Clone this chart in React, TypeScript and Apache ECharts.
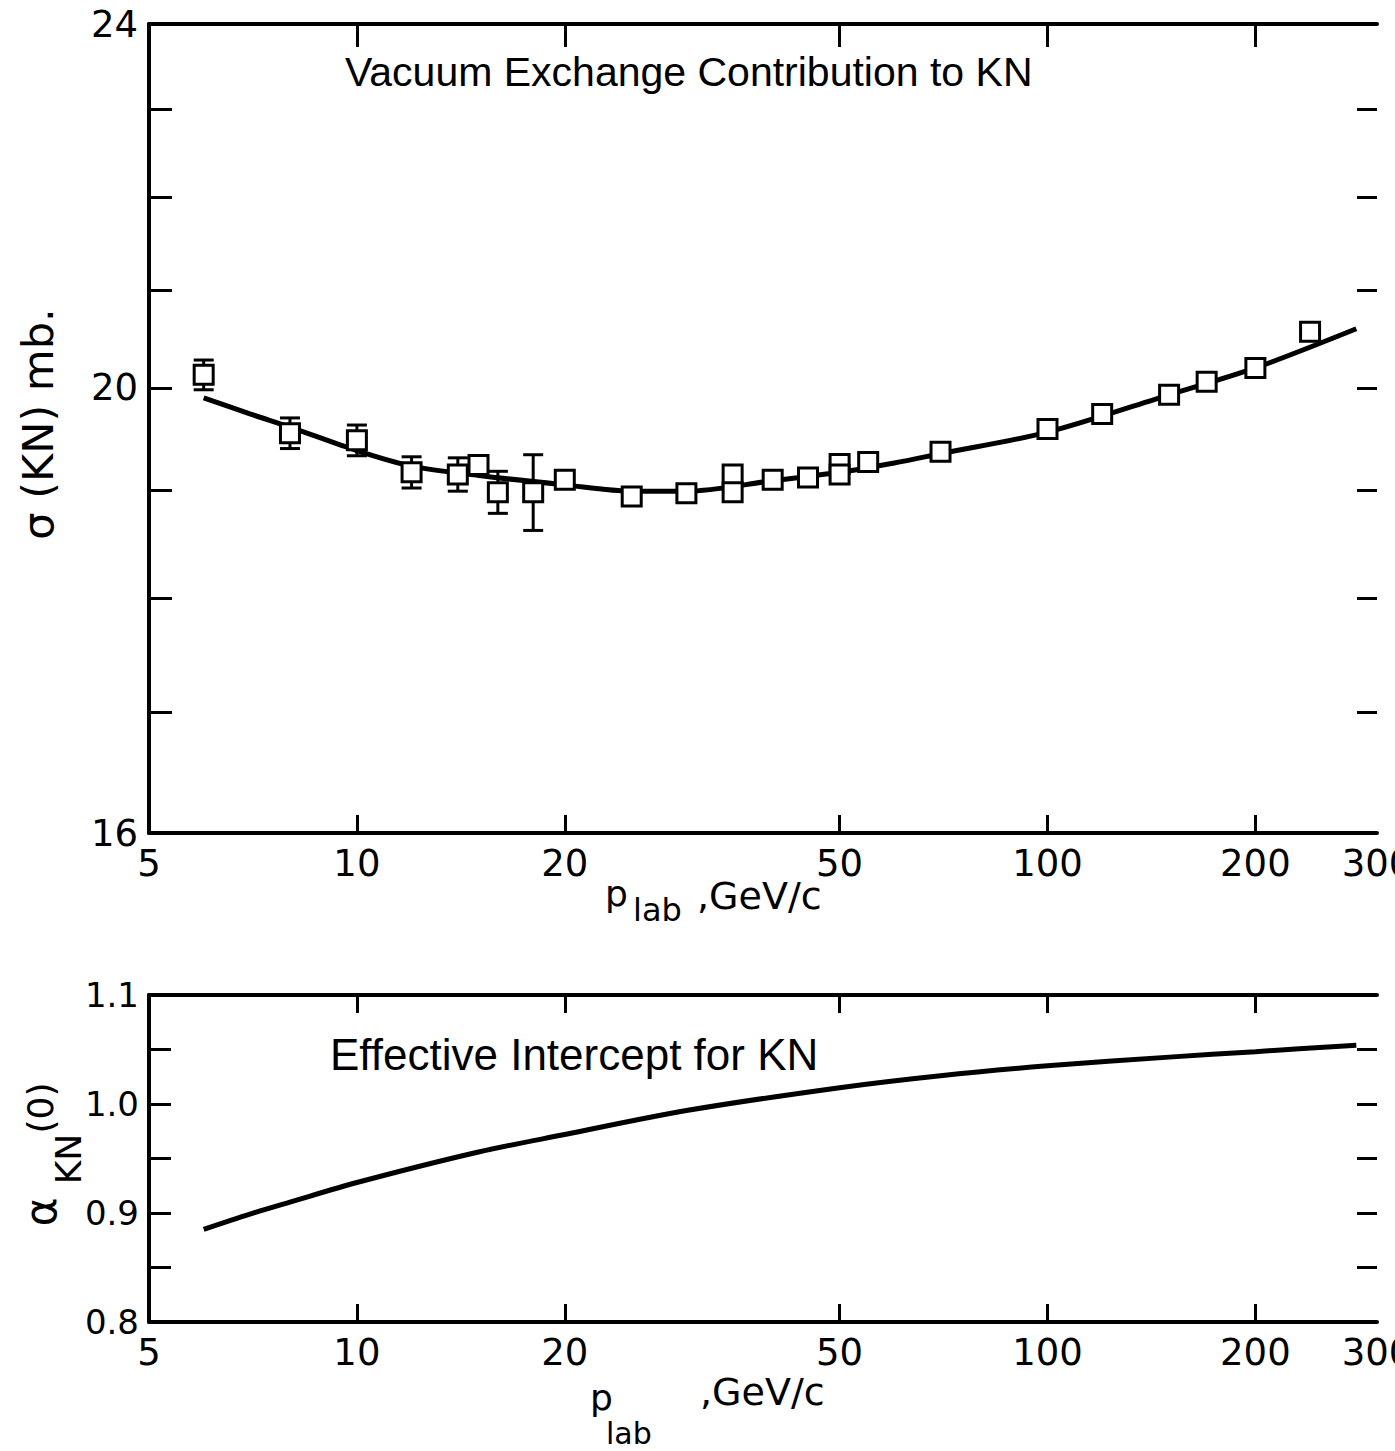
import React, { useEffect, useRef } from "react";
import * as echarts from "echarts";

// Axis ticks and labels (p_lab in GeV/c, sigma in mb, alpha dimensionless)
const momentumLabels = [5, 10, 20, 50, 100, 200, 300];
const momentumTicks = [10, 20, 50, 100, 200];
const sigmaLabels = [16, 20, 24];
const sigmaTicks = [17, 18, 19, 20, 21, 22, 23];
const alphaLabels = [0.8, 0.9, 1.0, 1.1];
const alphaTicks = [0.85, 0.9, 0.95, 1.0, 1.05];

// Measured KN cross sections with their errors (0 = no bar drawn)
const sigmaMomenta = [6, 8, 10, 12, 14, 15, 16, 18, 20, 25, 30, 35, 35, 40, 45, 50, 50, 55, 70, 100, 120, 150, 170, 200, 240];
const sigmaValues = [20.13, 19.55, 19.48, 19.17, 19.15, 19.24, 18.98, 18.98, 19.1, 18.94, 18.97, 19.15, 18.98, 19.1, 19.12, 19.25, 19.15, 19.27, 19.37, 19.59, 19.74, 19.93, 20.06, 20.2, 20.57];
const sigmaErrors = [0.15, 0.15, 0.15, 0.15, 0.16, 0, 0.2, 0.36, 0, 0, 0, 0, 0, 0, 0, 0, 0, 0, 0, 0, 0, 0, 0, 0, 0];

// Vacuum-exchange fit through the cross sections
const fitMomenta = [6, 7, 8, 10, 12, 15, 20, 25, 30, 40, 50, 60, 70, 100, 150, 200, 280];
const fitSigma = [19.9, 19.74, 19.61, 19.38, 19.23, 19.14, 19.05, 18.99, 18.99, 19.09, 19.17, 19.26, 19.35, 19.56, 19.93, 20.2, 20.6];

// Effective intercept alpha_KN(0)
const alphaMomenta = [6, 7, 8, 10, 15, 20, 30, 50, 70, 100, 150, 200, 280];
const alphaValues = [0.885, 0.899, 0.91, 0.928, 0.956, 0.972, 0.994, 1.015, 1.026, 1.035, 1.043, 1.048, 1.054];

const DIGIT_FONT = '"DejaVu Sans", sans-serif';
const TEXT_FONT = '"Liberation Sans", Arial, sans-serif';
const INK = "#000";

function buildOption() {
  const axisLine = { show: true, lineStyle: { color: INK, width: 4 } };
  const noLine = { show: false };
  const tickStyle = { color: INK, width: 3 };
  const labelStyle = { color: INK, fontFamily: DIGIT_FONT, fontSize: 37 };
  const fmtInt = (v: number) => String(Math.round(v));

  const momentumAxes = [0, 1].flatMap((g) => [
    {
      type: "log",
      logBase: 10,
      gridIndex: g,
      min: 5,
      max: 300,
      position: "bottom",
      axisLine,
      splitLine: { show: false },
      axisTick: { show: true, inside: true, length: 18, lineStyle: tickStyle, customValues: momentumTicks },
      axisLabel: { show: true, customValues: momentumLabels, formatter: fmtInt, margin: 12, ...labelStyle },
    },
    {
      type: "log",
      logBase: 10,
      gridIndex: g,
      min: 5,
      max: 300,
      position: "top",
      axisLine,
      splitLine: { show: false },
      axisTick: { show: true, inside: true, length: g === 0 ? 23 : 18, lineStyle: tickStyle, customValues: momentumTicks },
      axisLabel: { show: false },
    },
  ]);

  const yAxes = [
    {
      type: "log",
      logBase: 10,
      gridIndex: 0,
      min: 16,
      max: 24,
      position: "left",
      axisLine,
      splitLine: { show: false },
      axisTick: { show: true, inside: true, length: 23, lineStyle: tickStyle, customValues: sigmaTicks },
      axisLabel: { show: true, customValues: sigmaLabels, formatter: fmtInt, margin: 11, ...labelStyle },
    },
    {
      type: "log",
      logBase: 10,
      gridIndex: 0,
      min: 16,
      max: 24,
      position: "right",
      axisLine: noLine,
      splitLine: { show: false },
      axisTick: { show: true, inside: true, length: 20, lineStyle: tickStyle, customValues: sigmaTicks },
      axisLabel: { show: false },
    },
    {
      type: "value",
      gridIndex: 1,
      min: 0.8,
      max: 1.1,
      position: "left",
      axisLine,
      splitLine: { show: false },
      axisTick: { show: true, inside: true, length: 22, lineStyle: tickStyle, customValues: alphaTicks },
      axisLabel: {
        show: true,
        customValues: alphaLabels,
        formatter: (v: number) => v.toFixed(1),
        margin: 10,
        ...labelStyle,
        fontSize: 34,
      },
    },
    {
      type: "value",
      gridIndex: 1,
      min: 0.8,
      max: 1.1,
      position: "right",
      axisLine: noLine,
      splitLine: { show: false },
      axisTick: { show: true, inside: true, length: 20, lineStyle: tickStyle, customValues: alphaTicks },
      axisLabel: { show: false },
    },
  ];

  const fitData = fitMomenta.map((p, i) => [p, fitSigma[i]]);
  const pointData = sigmaMomenta.map((p, i) => [p, sigmaValues[i]]);
  const errorData = sigmaMomenta
    .map((p, i) => [p, sigmaValues[i], sigmaErrors[i]])
    .filter((d) => d[2] > 0);
  const alphaData = alphaMomenta.map((p, i) => [p, alphaValues[i]]);

  const errorBars = (params: any, api: any) => {
    const p = api.value(0);
    const v = api.value(1);
    const e = api.value(2);
    const hi = api.coord([p, v + e]);
    const lo = api.coord([p, v - e]);
    const cap = 10;
    const style = { stroke: INK, lineWidth: 3 };
    return {
      type: "group",
      children: [
        { type: "line", shape: { x1: hi[0], y1: hi[1], x2: lo[0], y2: lo[1] }, style },
        { type: "line", shape: { x1: hi[0] - cap, y1: hi[1], x2: hi[0] + cap, y2: hi[1] }, style },
        { type: "line", shape: { x1: lo[0] - cap, y1: lo[1], x2: lo[0] + cap, y2: lo[1] }, style },
      ],
    };
  };

  const text = (t: string, x: number, y: number, size: number, family: string) => ({
    type: "text",
    x,
    y,
    style: {
      text: t,
      fill: INK,
      fontSize: size,
      fontFamily: family,
      align: "left",
      verticalAlign: "middle",
    },
  });
  const vtext = (t: string, x: number, y: number, size: number) => ({
    type: "text",
    x,
    y,
    rotation: Math.PI / 2,
    style: { text: t, fill: INK, fontSize: size, fontFamily: DIGIT_FONT, align: "center", verticalAlign: "middle" },
  });

  return {
    animation: false,
    backgroundColor: "#fff",
    grid: [
      { left: 149, top: 24, width: 1228, height: 809, outerBoundsMode: "none", containLabel: false },
      { left: 149, top: 995, width: 1228, height: 327, outerBoundsMode: "none", containLabel: false },
    ],
    xAxis: momentumAxes,
    yAxis: yAxes,
    series: [
      {
        type: "line",
        xAxisIndex: 0,
        yAxisIndex: 0,
        data: fitData,
        smooth: 0.3,
        showSymbol: false,
        symbol: "none",
        lineStyle: { color: INK, width: 5 },
        z: 2,
      },
      {
        type: "custom",
        xAxisIndex: 0,
        yAxisIndex: 0,
        data: errorData,
        encode: { x: 0, y: 1 },
        renderItem: errorBars,
        z: 3,
      },
      {
        type: "scatter",
        xAxisIndex: 0,
        yAxisIndex: 0,
        data: pointData,
        symbol: "rect",
        symbolSize: 19,
        itemStyle: { color: "#fff", borderColor: INK, borderWidth: 3, opacity: 1 },
        z: 4,
      },
      {
        type: "line",
        xAxisIndex: 2,
        yAxisIndex: 2,
        data: alphaData,
        smooth: 0.3,
        showSymbol: false,
        symbol: "none",
        lineStyle: { color: INK, width: 5 },
        z: 2,
      },
    ],
    graphic: {
      elements: [
        text("Vacuum Exchange Contribution to KN", 345, 72, 41, TEXT_FONT),
        text("Effective Intercept for KN", 330, 1054, 44, TEXT_FONT),
        // x-axis title, upper panel
        text("p", 605, 893, 36, DIGIT_FONT),
        text("lab", 633, 910, 32, DIGIT_FONT),
        text(",GeV/c", 697, 896, 38, DIGIT_FONT),
        // x-axis title, lower panel
        text("p", 590, 1397, 36, DIGIT_FONT),
        text("lab", 606, 1433, 30, DIGIT_FONT),
        text(",GeV/c", 700, 1392, 38, DIGIT_FONT),
        // y-axis titles
        vtext("σ (KN) mb.", 38, 424, 43),
        vtext("α", 40, 1212, 44),
        vtext("KN", 68, 1159, 36),
        vtext("(0)", 40, 1108, 36),
      ],
    },
  };
}

export default function App() {
  const ref = useRef<HTMLDivElement>(null);
  useEffect(() => {
    if (!ref.current) return;
    const chart = echarts.init(ref.current, undefined, { renderer: "svg" });
    chart.setOption(buildOption() as any);
    return () => chart.dispose();
  }, []);
  return (
    <div
      ref={ref}
      style={{ position: "fixed", left: 0, top: 0, width: 1395, height: 1451, background: "#fff" }}
    />
  );
}
